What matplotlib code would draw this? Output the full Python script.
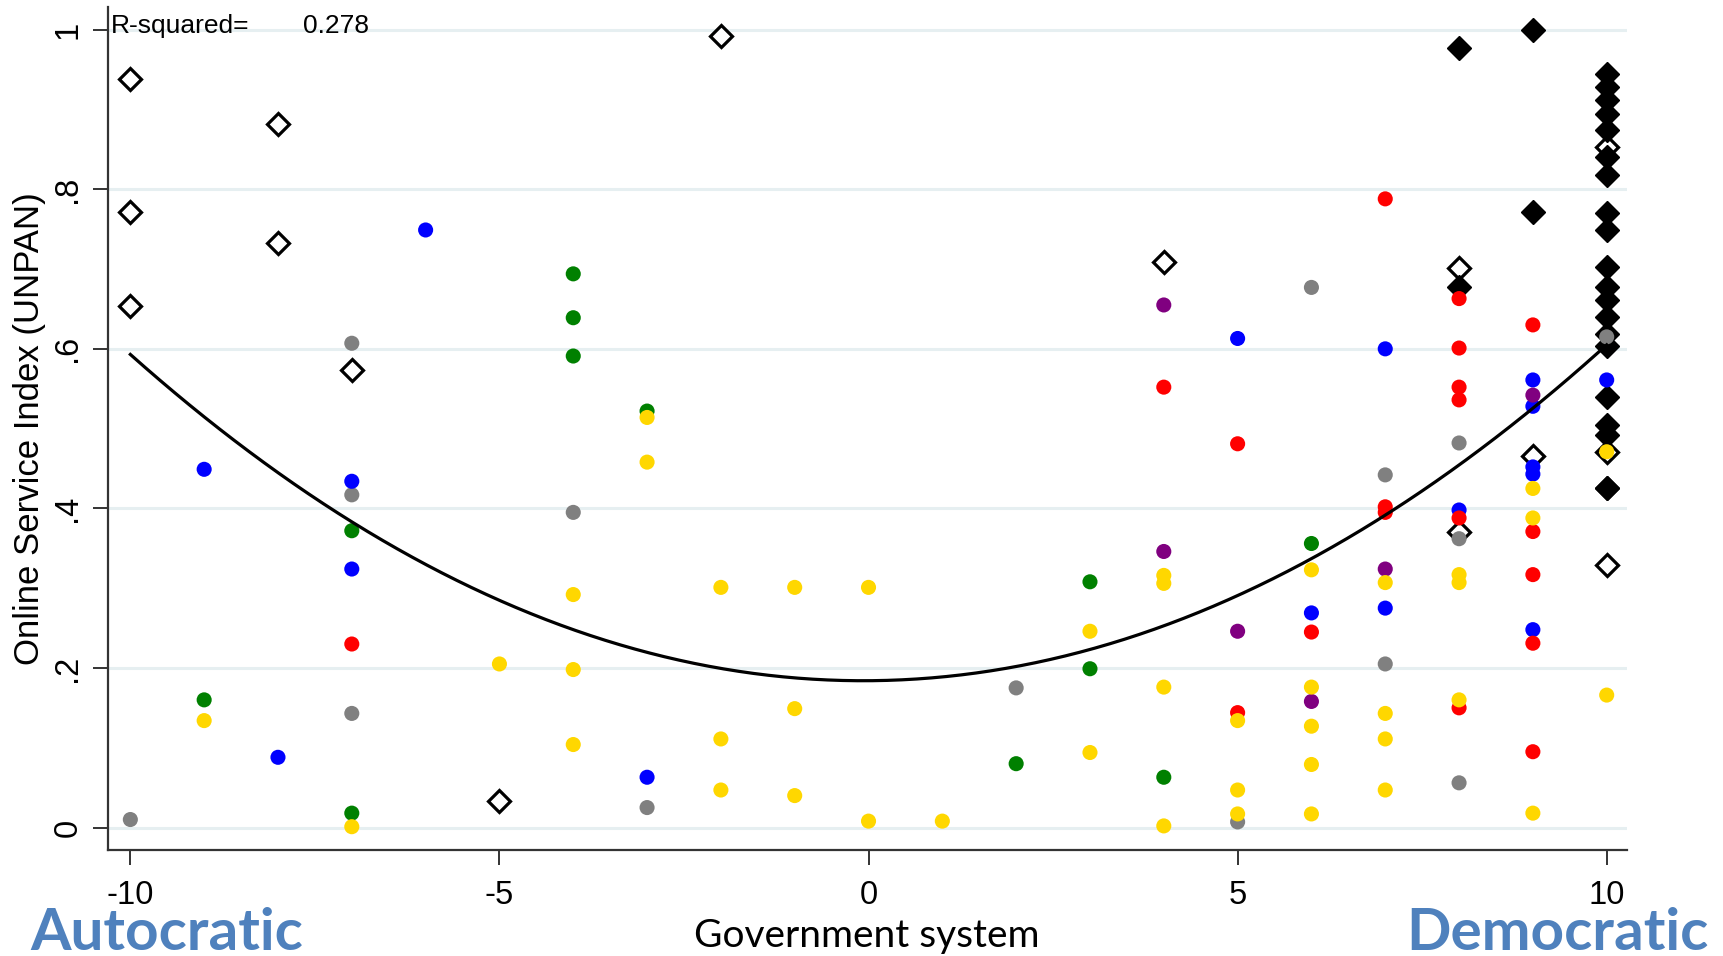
import numpy as np
import matplotlib
matplotlib.use("Agg")
import matplotlib.pyplot as plt

# colored country dots (x = government system score, y = online service index)
gray_x = [-10, -7, -7, -7, -4, -3, 2, 5, 6, 7, 7, 8, 8, 8, 10]
gray_y = [0.010, 0.607, 0.417, 0.143, 0.395, 0.025, 0.175, 0.007, 0.677, 0.442, 0.205, 0.482, 0.362, 0.056, 0.615]

blue_x = [-9, -8, -7, -7, -6, -3, 5, 6, 7, 7, 8, 9, 9, 9, 9, 9, 10]
blue_y = [0.449, 0.088, 0.434, 0.324, 0.749, 0.063, 0.613, 0.269, 0.600, 0.275, 0.398, 0.561, 0.528, 0.452, 0.443, 0.248, 0.561]

red_x = [-7, 4, 5, 5, 6, 7, 7, 7, 8, 8, 8, 8, 8, 8, 9, 9, 9, 9, 9]
red_y = [0.230, 0.552, 0.481, 0.144, 0.245, 0.788, 0.402, 0.395, 0.663, 0.601, 0.552, 0.536, 0.388, 0.150,
         0.630, 0.371, 0.317, 0.231, 0.095]

green_x = [-9, -7, -7, -4, -4, -4, -3, 2, 3, 3, 4, 6]
green_y = [0.160, 0.372, 0.018, 0.694, 0.639, 0.591, 0.522, 0.080, 0.308, 0.199, 0.063, 0.356]

purple_x = [4, 4, 5, 6, 7, 9]
purple_y = [0.655, 0.346, 0.246, 0.158, 0.324, 0.542]

yellow_x = [-9, -7, -5, -4, -4, -4, -3, -3, -2, -2, -2, -1, -1, -1, 0, 0, 1, 3, 3,
            4, 4, 4, 4, 5, 5, 5, 6, 6, 6, 6, 6, 7, 7, 7, 7, 8, 8, 8, 9, 9, 9, 10, 10]
yellow_y = [0.134, 0.001, 0.205, 0.292, 0.198, 0.104, 0.514, 0.458, 0.301, 0.111, 0.047, 0.301, 0.149, 0.040,
            0.301, 0.008, 0.008, 0.246, 0.094, 0.316, 0.306, 0.176, 0.002, 0.134, 0.047, 0.017,
            0.323, 0.176, 0.127, 0.079, 0.017, 0.307, 0.143, 0.111, 0.047, 0.317, 0.307, 0.160,
            0.425, 0.388, 0.018, 0.471, 0.166]

# diamonds
open_x = [-10, -10, -10, -8, -8, -7, -5, -2, 4, 8, 8, 9, 10, 10, 10]
open_y = [0.938, 0.771, 0.654, 0.882, 0.733, 0.573, 0.033, 0.992, 0.709, 0.701, 0.371, 0.466, 0.853, 0.471, 0.329]

solid_x = [8, 8, 9, 9] + [10] * 20
solid_y = [0.977, 0.678, 1.0, 0.771,
           0.945, 0.928, 0.912, 0.895, 0.874, 0.841, 0.818, 0.770, 0.749, 0.703,
           0.678, 0.661, 0.640, 0.619, 0.603, 0.540, 0.505, 0.492, 0.425, 0.425]

# quadratic fit: y = a*x^2 + b*x + c
fit_a, fit_b, fit_c = 0.00415, 0.0006, 0.184
r_squared = "0.278"

yticks = [0, 0.2, 0.4, 0.6, 0.8, 1]
yticklabels = ["0", ".2", ".4", ".6", ".8", "1"]
xticks = [-10, -5, 0, 5, 10]

W, H = 1723, 956
fig = plt.figure(figsize=(W / 100, H / 100), dpi=100)
ax = fig.add_axes([108.2 / W, 1 - 850 / H, (1627 - 108.2) / W, (850 - 7) / H])

ax.set_xlim(-10.30, 10.275)
ax.set_ylim(-0.0282, 1.0285)

for yv in yticks:
    ax.axhline(yv, color="#E6EFF1", lw=2.2, zorder=0)

ax.plot(open_x, open_y, linestyle="none", marker="D", markersize=11.5,
        markerfacecolor="white", markeredgecolor="black", markeredgewidth=2.3, zorder=2)
ax.plot(solid_x, solid_y, linestyle="none", marker="D", markersize=12.5,
        markerfacecolor="black", markeredgecolor="black", markeredgewidth=1, zorder=2)

dot_groups = [(gray_x, gray_y, "#808080"), (blue_x, blue_y, "#0000FF"), (red_x, red_y, "#FF0000"),
              (green_x, green_y, "#008000"), (purple_x, purple_y, "#800080"), (yellow_x, yellow_y, "#FFD700")]
for gx, gy, col in dot_groups:
    ax.scatter(gx, gy, s=118, color=col, edgecolors="none", zorder=3)

xs = np.linspace(-10, 10, 200)
ax.plot(xs, fit_a * xs ** 2 + fit_b * xs + fit_c, color="black", lw=2.3, zorder=4)

for side in ["top", "right"]:
    ax.spines[side].set_visible(False)
for side in ["left", "bottom"]:
    ax.spines[side].set_color("#333333")
    ax.spines[side].set_linewidth(1.6)

ax.set_yticks(yticks)
ax.set_yticklabels(yticklabels, rotation=90, va="center", fontfamily="Liberation Sans", fontsize=23.5)
ax.set_xticks(xticks)
ax.set_xticklabels([str(v) for v in xticks], fontfamily="Liberation Sans", fontsize=23.5)
ax.tick_params(axis="both", length=10.8, width=1.4, color="#333333")
ax.tick_params(axis="y", pad=7)
ax.tick_params(axis="x", pad=11)

ax.set_ylabel("Online Service Index (UNPAN)", fontfamily="Liberation Sans", fontsize=25)
ax.yaxis.set_label_coords(-0.041, 0.5)
ax.set_xlabel("Government system", fontfamily="Lato", fontsize=28, va="baseline")
ax.xaxis.set_label_coords(0.4996, -0.1151)

ax.text(110.7 / W, 1 - 33 / H, "R-squared=", transform=fig.transFigure,
        fontfamily="Liberation Sans", fontsize=19, va="baseline", ha="left")
ax.text(303 / W, 1 - 33 / H, r_squared, transform=fig.transFigure,
        fontfamily="Liberation Sans", fontsize=19, va="baseline", ha="left")

fig.text(30 / W, 1 - 950 / H, "Autocratic", fontfamily="Lato", fontweight="bold",
         fontsize=42, color="#4F81BD", va="baseline", ha="left")
fig.text(1709 / W, 1 - 950 / H, "Democratic", fontfamily="Lato", fontweight="bold",
         fontsize=42, color="#4F81BD", va="baseline", ha="right")

fig.savefig("out.png", dpi=100)
